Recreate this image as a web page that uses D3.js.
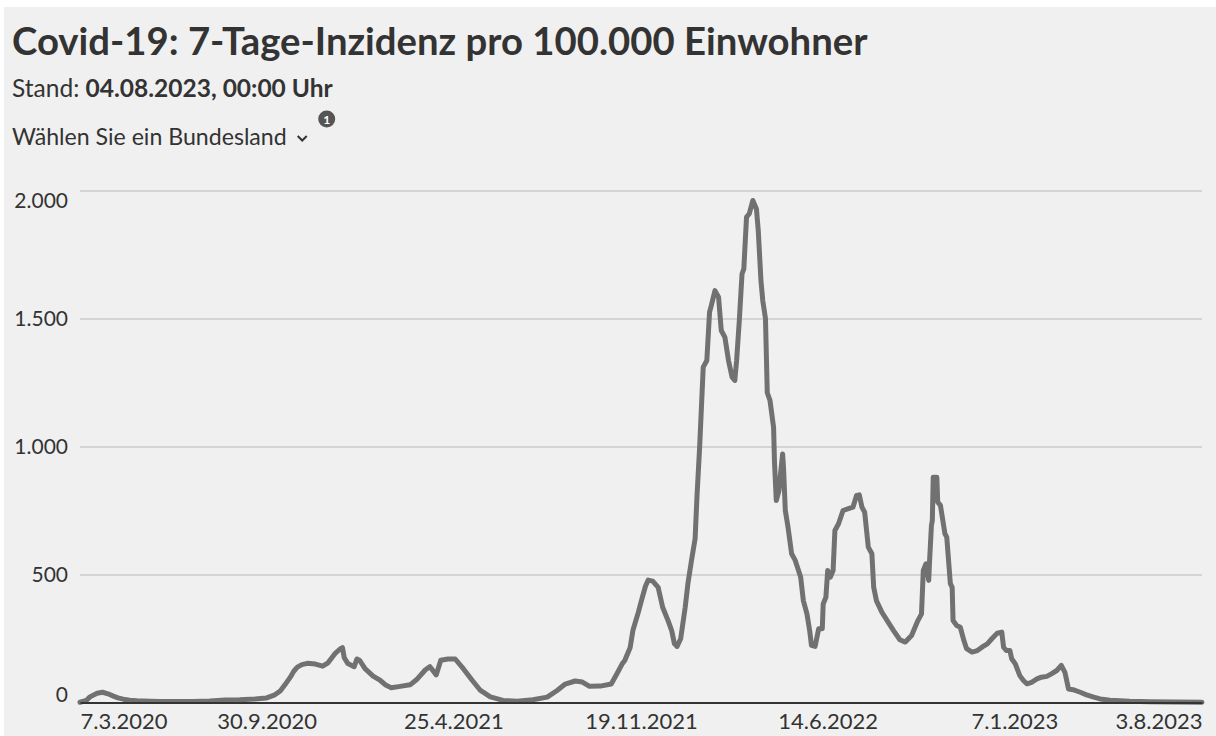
<!DOCTYPE html>
<html lang="de">
<head>
<meta charset="utf-8">
<title>Covid-19: 7-Tage-Inzidenz</title>
<script src="https://cdn.jsdelivr.net/npm/d3@7"></script>
<style>
  html, body { margin: 0; padding: 0; background: #ffffff; }
  svg { display: block; }
  text { font-family: Lato, "Noto Sans", sans-serif; fill: #333333; }
</style>
</head>
<body>
<svg id="chart" width="1216" height="736"></svg>
<script>
// 7-Tage-Inzidenz pro 100.000 Einwohner, Deutschland
const dates = [
  "2020-03-07","2020-03-14","2020-03-18","2020-03-26","2020-04-01","2020-04-07","2020-04-13","2020-04-18",
  "2020-04-24","2020-05-01","2020-05-09","2020-05-24","2020-06-04","2020-06-20","2020-07-10","2020-07-29",
  "2020-08-15","2020-08-31","2020-09-17","2020-09-30","2020-10-09","2020-10-15","2020-10-20","2020-10-26",
  "2020-10-30","2020-11-03","2020-11-08","2020-11-14","2020-11-23","2020-12-01","2020-12-07","2020-12-15",
  "2020-12-20","2020-12-23","2020-12-25","2020-12-29","2021-01-05","2021-01-08","2021-01-11","2021-01-17",
  "2021-01-26","2021-02-03","2021-02-09","2021-02-15","2021-02-25","2021-03-08","2021-03-16","2021-03-25",
  "2021-03-30","2021-04-06","2021-04-11","2021-04-19","2021-04-27","2021-05-06","2021-05-16","2021-05-25",
  "2021-06-05","2021-06-19","2021-07-05","2021-07-22","2021-08-07","2021-08-18","2021-08-27","2021-09-07",
  "2021-09-15","2021-09-23","2021-10-05","2021-10-17","2021-10-23","2021-10-29","2021-11-01","2021-11-07",
  "2021-11-10","2021-11-16","2021-11-20","2021-11-24","2021-11-27","2021-12-02","2021-12-08","2021-12-13",
  "2021-12-19","2021-12-23","2021-12-26","2021-12-29","2022-01-02","2022-01-07","2022-01-10","2022-01-14",
  "2022-01-18","2022-01-20","2022-01-23","2022-01-27","2022-01-31","2022-02-03","2022-02-05","2022-02-09",
  "2022-02-13","2022-02-16","2022-02-20","2022-02-24","2022-02-28","2022-03-03","2022-03-05","2022-03-08",
  "2022-03-11","2022-03-13","2022-03-16","2022-03-19","2022-03-23","2022-03-27","2022-03-29","2022-04-01",
  "2022-04-03","2022-04-06","2022-04-08","2022-04-11","2022-04-15","2022-04-16","2022-04-18","2022-04-21",
  "2022-04-22","2022-04-25","2022-04-26","2022-04-28","2022-05-01","2022-05-05","2022-05-09","2022-05-15",
  "2022-05-18","2022-05-22","2022-05-25","2022-05-27","2022-05-31","2022-06-04","2022-06-08","2022-06-09",
  "2022-06-12","2022-06-14","2022-06-17","2022-06-20","2022-06-22","2022-06-26","2022-07-01","2022-07-07",
  "2022-07-12","2022-07-16","2022-07-19","2022-07-22","2022-07-25","2022-07-29","2022-08-02","2022-08-04",
  "2022-08-07","2022-08-13","2022-08-20","2022-08-26","2022-09-02","2022-09-08","2022-09-15","2022-09-22",
  "2022-09-26","2022-09-28","2022-10-01","2022-10-04","2022-10-05","2022-10-07","2022-10-08","2022-10-09",
  "2022-10-13","2022-10-14","2022-10-17","2022-10-22","2022-10-24","2022-10-28","2022-10-30","2022-10-31",
  "2022-11-04","2022-11-08","2022-11-12","2022-11-15","2022-11-21","2022-11-27","2022-12-02","2022-12-08",
  "2022-12-13","2022-12-19","2022-12-24","2022-12-26","2022-12-29","2023-01-02","2023-01-04","2023-01-08",
  "2023-01-13","2023-01-17","2023-01-21","2023-01-26","2023-02-01","2023-02-06","2023-02-12","2023-02-17",
  "2023-02-23","2023-02-28","2023-03-04","2023-03-08","2023-03-13","2023-03-21","2023-03-28","2023-04-05",
  "2023-04-12","2023-04-23","2023-05-15","2023-06-06","2023-07-04","2023-08-03"
];
const incidence = [
  1, 8, 22, 36, 40, 34, 25, 18,
  13, 9, 7, 5, 4, 4, 4, 6,
  10, 11, 14, 18, 30, 45, 68, 98,
  122, 138, 148, 153, 150, 142, 155, 192,
  208, 214, 175, 152, 140, 170, 165, 132,
  103, 86, 68, 58, 63, 69, 92, 128,
  140, 108, 165, 170, 170, 132, 86, 47,
  22, 8, 5, 11, 21, 47, 72, 84,
  80, 63, 64, 72, 110, 150, 164, 215,
  281, 352, 405, 455, 478, 474, 450, 372,
  320, 281, 230, 219, 249, 372, 464, 555,
  640, 800, 997, 1310, 1336, 1525, 1551, 1609,
  1583, 1453, 1427, 1336, 1271, 1258, 1336, 1492,
  1674, 1694, 1896, 1909, 1961, 1928, 1844, 1648,
  1570, 1500, 1210, 1180, 1075, 940, 789, 828,
  867, 971, 919, 750, 685, 581, 555, 490,
  398, 346, 281, 223, 219, 288, 288, 385,
  411, 516, 490, 516, 672, 698, 750, 757,
  763, 809, 811, 763, 743, 607, 581, 450,
  398, 353, 314, 281, 245, 236, 262, 320,
  346, 516, 542, 477, 555, 691, 711, 880,
  880, 783, 770, 659, 646, 464, 450, 320,
  301, 294, 242, 210, 197, 203, 216, 229,
  249, 271, 275, 216, 203, 203, 171, 151,
  105, 86, 73, 79, 92, 99, 102, 112,
  125, 145, 118, 53, 50, 40, 30, 21,
  14, 9, 5, 3, 2, 1
];
const yTicks = [0, 500, 1000, 1500, 2000];
const xTickDates = ["2020-03-07","2020-09-30","2021-04-25","2021-11-19","2022-06-14","2023-01-07","2023-08-03"];

const titleText = "Covid-19: 7-Tage-Inzidenz pro 100.000 Einwohner";
const standLabel = "Stand: ";
const standValue = "04.08.2023, 00:00 Uhr";
const selectLabel = "Wählen Sie ein Bundesland";

const parse = d3.utcParse("%Y-%m-%d");
const series = dates.map((d, i) => ({ date: parse(d), value: incidence[i] }));

const W = 1216, H = 736;
const plot = { left: 80, right: 1202, top: 190.5, bottom: 702.5 };

const svg = d3.select("#chart");

// panel background
svg.append("rect").attr("x", 4).attr("y", 7).attr("width", W - 4).attr("height", H - 7).attr("fill", "#f0f0f0");

// scale a text element so it spans the given width
function fitWidth(sel, size, width) {
  const w = sel.node().getComputedTextLength();
  sel.attr("font-size", size * width / w);
}

// header
const title = svg.append("text")
  .attr("x", 12).attr("y", 55)
  .attr("font-weight", 700).attr("font-size", 37)
  .text(titleText);
fitWidth(title, 37, 856);

const stand = svg.append("text").attr("x", 12).attr("y", 97).attr("font-size", 22);
stand.append("tspan").text(standLabel);
stand.append("tspan").attr("font-weight", 700).text(standValue);
fitWidth(stand, 22, 321);

const sel = svg.append("text").attr("x", 12).attr("y", 145).attr("font-size", 22).text(selectLabel);
fitWidth(sel, 22, 275);
const selEnd = 12 + sel.node().getComputedTextLength();
// dropdown chevron
svg.append("path")
  .attr("d", `M${selEnd + 11},${136} l4.5,4.5 l4.5,-4.5`)
  .attr("fill", "none").attr("stroke", "#333").attr("stroke-width", 2);
// info badge
const badge = svg.append("g").attr("transform", `translate(${selEnd + 40},119)`);
badge.append("circle").attr("r", 8.5).attr("fill", "#555");
badge.append("text").attr("text-anchor", "middle").attr("y", 4.5)
  .attr("font-size", 12).attr("font-weight", 700).style("fill", "#fff").text("1");

// scales
const x = d3.scaleUtc()
  .domain([parse(dates[0]), parse(dates[dates.length - 1])])
  .range([plot.left, plot.right]);
const y = d3.scaleLinear().domain([0, 2000]).range([plot.bottom, plot.top]);

const fmt = d3.formatLocale({ decimal: ",", thousands: ".", grouping: [3], currency: ["", " €"] }).format(",");

// grid lines
const yAxis = d3.axisLeft(y).tickValues(yTicks).tickSize(-(plot.right - plot.left)).tickFormat(fmt);
const gy = svg.append("g").attr("transform", `translate(${plot.left},0)`).call(yAxis);
gy.select(".domain").remove();
gy.selectAll(".tick line").attr("stroke", "#d4d4d4").attr("stroke-width", 2)
  .filter(d => d === 0).remove();
gy.selectAll(".tick text")
  .attr("x", -12)
  .attr("font-size", 21)
  .attr("font-family", "Lato, 'Noto Sans', sans-serif")
  .style("fill", "#333")
  .attr("dy", d => d === 2000 ? "0.82em" : d === 0 ? "-0.05em" : "0.35em");

// line
const line = d3.line().x(d => x(d.date)).y(d => y(d.value)).curve(d3.curveLinear);
svg.append("path").datum(series)
  .attr("d", line)
  .attr("fill", "none")
  .attr("stroke", "#717171")
  .attr("stroke-width", 5)
  .attr("stroke-linejoin", "round")
  .attr("stroke-linecap", "round");

// x axis
const fmtDate = d3.utcFormat("%-d.%-m.%Y");
const xAxis = d3.axisBottom(x).tickValues(xTickDates.map(parse)).tickSize(0).tickFormat(fmtDate);
const gx = svg.append("g").attr("transform", `translate(0,${plot.bottom})`).call(xAxis);
gx.select(".domain").attr("stroke", "#333").attr("stroke-width", 2);
gx.selectAll(".tick text")
  .attr("y", 26).attr("dy", 0)
  .attr("font-size", 22)
  .attr("font-family", "Lato, 'Noto Sans', sans-serif")
  .style("fill", "#333")
  .attr("text-anchor", (d, i, n) => i === 0 ? "start" : i === n.length - 1 ? "end" : "middle");
</script>
</body>
</html>
